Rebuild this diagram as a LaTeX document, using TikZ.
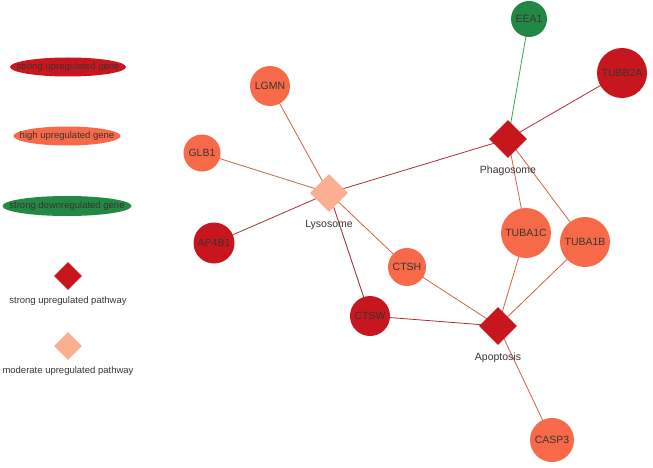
\documentclass[tikz,border=0pt]{standalone}
\usepackage{fontspec}
\setmainfont{Liberation Sans}
\usetikzlibrary{shapes.geometric,backgrounds}
\definecolor{strongred}{RGB}{200,22,30}
\definecolor{highred}{RGB}{246,106,74}
\definecolor{downgreen}{RGB}{33,137,68}
\definecolor{modpink}{RGB}{252,174,145}
\definecolor{darkedge}{RGB}{168,46,56}
\definecolor{lightedge}{RGB}{205,100,70}
\definecolor{greenedge}{RGB}{60,160,90}
\definecolor{labelgray}{RGB}{60,50,50}
\begin{document}
\begin{tikzpicture}[x=1pt,y=-1pt,
		gene/.style={circle,inner sep=0pt,text=labelgray,font=\fontsize{10.5}{12}\selectfont},
		pathway/.style={diamond,aspect=1,inner sep=0pt,minimum size=38pt},
		legend/.style={ellipse,inner sep=0pt},
		ptext/.style={text=labelgray,font=\fontsize{10.5}{12}\selectfont},
		ltext/.style={text=labelgray,font=\fontsize{9.5}{11}\selectfont},
		strong/.style={darkedge,line width=0.8pt},
		high/.style={lightedge,line width=0.8pt}]
	\useasboundingbox (0,0) rectangle (653,468);
	% legend
	\node[legend,fill=strongred,minimum width=116pt,minimum height=19pt] (lgstrong) at (68,67) {};
	\node[ltext] (lgstrongtext) at (lgstrong) {strong upregulated gene};
	\node[legend,fill=highred,minimum width=107pt,minimum height=19pt] (lghigh) at (67,136) {};
	\node[ltext] (lghightext) at (lghigh) {high upregulated gene};
	\node[legend,fill=downgreen,minimum width=129pt,minimum height=20pt] (lgdown) at (67,206) {};
	\node[ltext] (lgdowntext) at (lgdown) {strong downregulated gene};
	\node[pathway,fill=strongred,minimum size=28pt] (lgpstrong) at (68,276) {};
	\node[ltext] (lgpstrongtext) at (68,301) {strong upregulated pathway};
	\node[pathway,fill=modpink,minimum size=28pt] (lgpmod) at (68,346) {};
	\node[ltext] (lgpmodtext) at (68,371) {moderate upregulated pathway};
	% pathways
	\node[pathway,fill=strongred] (phago) at (508,139) {};
	\node[ptext] (phagotext) at (508,171) {Phagosome};
	\node[pathway,fill=modpink] (lyso) at (329,193) {};
	\node[ptext] (lysotext) at (329,225) {Lysosome};
	\node[pathway,fill=strongred] (apop) at (498,326) {};
	\node[ptext] (apoptext) at (498,358) {Apoptosis};
	% genes
	\node[gene,fill=downgreen,minimum size=36pt] (eea) at (529,19) {EEA1};
	\node[gene,fill=strongred,minimum size=50pt] (tubb) at (622,73) {TUBB2A};
	\node[gene,fill=highred,minimum size=40pt] (lgmn) at (270,86) {LGMN};
	\node[gene,fill=highred,minimum size=37pt] (glb) at (202,153) {GLB1};
	\node[gene,fill=strongred,minimum size=41pt] (ap) at (214,243) {AP4B1};
	\node[gene,fill=highred,minimum size=50pt] (tubac) at (526,233) {TUBA1C};
	\node[gene,fill=highred,minimum size=50pt] (tubab) at (585,242) {TUBA1B};
	\node[gene,fill=highred,minimum size=38pt] (ctsh) at (407,267) {CTSH};
	\node[gene,fill=strongred,minimum size=40pt] (ctsw) at (370,316) {CTSW};
	\node[gene,fill=highred,minimum size=44pt] (casp) at (552,440) {CASP3};
	% edges
	\begin{scope}[on background layer]
		\draw[greenedge,line width=0.8pt] (eea.center)--(phago.center);
		\draw[strong] (tubb.center)--(phago.center);
		\draw[strong] (lyso.center)--(phago.center);
		\draw[high] (phago.center)--(tubac.center);
		\draw[high] (phago.center)--(tubab.center);
		\draw[high] (lgmn.center)--(lyso.center);
		\draw[high] (glb.center)--(lyso.center);
		\draw[strong] (ap.center)--(lyso.center);
		\draw[strong] (lyso.center)--(ctsw.center);
		\draw[high] (lyso.center)--(ctsh.center);
		\draw[high] (ctsh.center)--(apop.center);
		\draw[strong] (ctsw.center)--(apop.center);
		\draw[high] (tubac.center)--(apop.center);
		\draw[high] (tubab.center)--(apop.center);
		\draw[high] (apop.center)--(casp.center);
	\end{scope}
\end{tikzpicture}
\end{document}
